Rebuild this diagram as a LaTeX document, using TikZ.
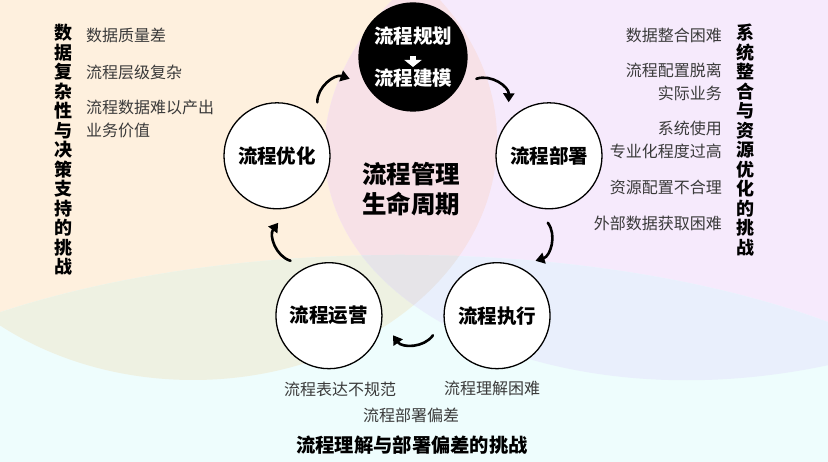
\documentclass[tikz,border=0pt]{standalone}
\usepackage{fontspec}
\setmainfont{Noto Sans CJK SC}
\usetikzlibrary{arrows.meta}
\definecolor{peach}{HTML}{FEF0DE}
\definecolor{lilac}{HTML}{F6EAFC}
\definecolor{aqua}{HTML}{EEFDFD}
\definecolor{blush}{HTML}{F7E1E7}
\definecolor{sage}{HTML}{EEF1E2}
\definecolor{periwinkle}{HTML}{E9EFFC}
\definecolor{mist}{HTML}{E6E4E8}
\definecolor{itemgray}{HTML}{3A3A3A}
\begin{document}
\begin{tikzpicture}[x=1pt, y=1pt, line cap=round, line join=round, >={Triangle[length=9pt,width=11pt]}]
	\tikzset{stage/.style={circle, draw=black, line width=1.3pt, fill=white, minimum size=106pt, inner sep=0pt, font=\fontsize{19.5}{22}\selectfont\bfseries},
		item/.style={text=itemgray, font=\fontsize{16}{23}\selectfont, inner sep=0pt},
		side title/.style={font=\fontsize{18}{19.5}\selectfont\bfseries, align=center, inner sep=0pt},
		cycle/.style={->, line width=2.6pt}}
	\useasboundingbox (0,0) rectangle (828,462);
	% background ellipses and their overlaps
	\begin{scope}
		\clip (0,0) rectangle (828,462);
		\fill[peach] (193,322) ellipse [x radius=304, y radius=240];
		\fill[lilac] (745,349) ellipse [x radius=423, y radius=263, rotate=8.2];
		\fill[aqua] (400,-43) ellipse [x radius=628, y radius=250];
		\begin{scope}
			\clip (193,322) ellipse [x radius=304, y radius=240];
			\fill[blush] (745,349) ellipse [x radius=423, y radius=263, rotate=8.2];
			\fill[sage] (400,-43) ellipse [x radius=628, y radius=250];
			\clip (745,349) ellipse [x radius=423, y radius=263, rotate=8.2];
			\fill[mist] (400,-43) ellipse [x radius=628, y radius=250];
		\end{scope}
		\begin{scope}
			\clip (745,349) ellipse [x radius=423, y radius=263, rotate=8.2];
			\clip (400,-43) ellipse [x radius=628, y radius=250];
			\fill[periwinkle] (0,0) rectangle (828,462);
			\clip (193,322) ellipse [x radius=304, y radius=240];
			\fill[mist] (0,0) rectangle (828,462);
		\end{scope}
	\end{scope}
	% cycle
	\coordinate (hub) at (413,262);
	\node[stage, fill=black, text=white, minimum size=108pt, align=center] (plan) at ([shift={(90:143)}]hub) {流程规划\\[20pt]流程建模};
	\draw[white, line width=6pt, line cap=butt, -{Triangle[length=7pt,width=17pt]}] ([yshift=1pt]plan.center) -- ([yshift=-10pt]plan.center);
	\foreach \ang/\name/\txt in {18/deploy/流程部署, 306/exec/流程执行, 234/oper/流程运营, 162/optim/流程优化}
		\node[stage] (\name) at ([shift={(\ang:143)}]hub) {\txt};
	\foreach \src/\dst/\sa/\ea/\oa/\ia in {plan/deploy/-19/127/19/89, deploy/exec/-91/55/-53/17, exec/oper/197/343/235/305, oper/optim/125/271/163/233, optim/plan/53/199/91/161}
		\draw[cycle] ([shift={(\sa:67)}]\src.center) to[out=\oa, in=\ia] ([shift={(\ea:67)}]\dst.center);
	\node[font=\fontsize{24.5}{30}\selectfont\bfseries, align=center] (core) at (411,273) {流程管理\\生命周期};
	% left challenges
	\node[side title] (lefttitle) at (63,312) {数\\据\\复\\杂\\性\\与\\决\\策\\支\\持\\的\\挑\\战};
	\node[item, anchor=west] (quality) at (86,427) {数据质量差};
	\node[item, anchor=west] (levels) at (86,390) {流程层级复杂};
	\node[item, anchor=west, align=left] (value) at (86,343) {流程数据难以产出\\业务价值};
	% right challenges
	\node[side title] (righttitle) at (745,322) {系\\统\\整\\合\\与\\资\\源\\优\\化\\的\\挑\\战};
	\node[item, anchor=east] (integr) at (722,427) {数据整合困难};
	\node[item, anchor=east, align=right] (config) at (722,380) {流程配置脱离\\实际业务};
	\node[item, anchor=east, align=right] (special) at (722,322) {系统使用\\专业化程度过高};
	\node[item, anchor=east] (alloc) at (722,275) {资源配置不合理};
	\node[item, anchor=east] (extdata) at (722,239) {外部数据获取困难};
	% bottom challenges
	\node[item] (expr) at (340,73) {流程表达不规范};
	\node[item] (underst) at (492,74) {流程理解困难};
	\node[item] (bias) at (411,47) {流程部署偏差};
	\node[font=\fontsize{19.3}{22}\selectfont\bfseries] (bottomtitle) at (412,17) {流程理解与部署偏差的挑战};
\end{tikzpicture}
\end{document}
